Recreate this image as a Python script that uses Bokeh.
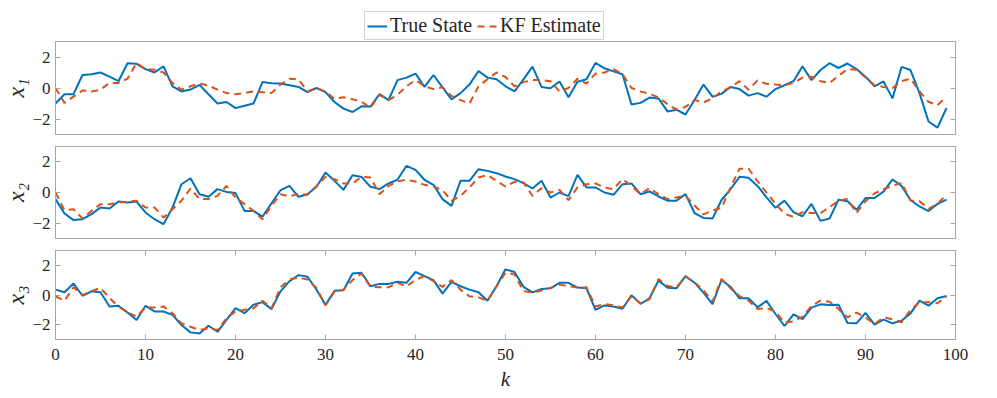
from bokeh.plotting import figure
from bokeh.layouts import column
from bokeh.models import Range1d, FixedTicker, LinearAxis, Legend, LegendItem
from bokeh.embed import file_html
from bokeh.resources import INLINE

k = list(range(100))

x1_true = [-1.0, -0.4, -0.4, 0.84, 0.89, 1.0, 0.73, 0.44, 1.6, 1.56,
           1.22, 1.0, 1.4, 0.1, -0.22, -0.1, 0.2, -0.4, -1.0, -0.9,
           -1.3, -1.15, -1.0, 0.38, 0.31, 0.29, 0.18, 0.07, -0.27, 0.0,
           -0.27, -0.9, -1.33, -1.55, -1.18, -1.2, -0.4, -0.78, 0.51, 0.67,
           0.93, 0.07, 0.84, 0.04, -0.73, -0.33, 0.22, 1.1, 0.67, 0.56,
           0.11, -0.22, 0.56, 1.38, 0.07, -0.02, 0.42, -0.6, 0.4, 0.56,
           1.62, 1.27, 1.07, 0.89, -1.07, -0.96, -0.62, -0.67, -1.51, -1.4,
           -1.71, -0.78, 0.22, -0.56, -0.38, 0.07, -0.07, -0.49, -0.33, -0.56,
           -0.07, 0.18, 0.44, 1.4, 0.51, 1.16, 1.6, 1.29, 1.58, 1.22,
           0.73, 0.11, 0.42, -0.67, 1.36, 1.16, -0.33, -2.16, -2.56, -1.29]
x1_est = [0.0, -0.96, -0.56, -0.16, -0.22, -0.11, 0.33, 0.33, 0.6, 1.62,
          1.22, 1.18, 1.0, 0.33, -0.11, 0.11, 0.29, 0.16, -0.11, -0.33,
          -0.4, -0.33, -0.22, -0.27, -0.33, 0.22, 0.6, 0.56, -0.22, 0.0,
          -0.22, -0.7, -0.6, -0.73, -0.89, -1.27, -0.44, -0.78, -0.44, 0.11,
          0.51, 0.11, -0.07, 0.04, -0.51, -0.78, -1.0, 0.11, 0.56, 1.0,
          0.71, 0.11, 0.38, 0.51, 0.51, 0.44, -0.22, 0.0, 0.6, 0.29,
          0.93, 1.0, 1.22, 0.89, 0.0, -0.22, -0.38, -0.6, -1.04, -1.4,
          -1.22, -0.78, -0.93, -0.67, -0.22, 0.04, 0.44, -0.11, 0.49, 0.27,
          0.22, 0.18, 0.33, 0.67, 0.73, 0.44, 0.33, 0.78, 1.22, 1.18,
          0.67, 0.18, 0.07, 0.0, 0.44, 0.6, -0.22, -0.89, -1.11, -0.56]

x2_true = [-0.43, -1.37, -1.8, -1.74, -1.41, -0.98, -1.04, -0.59, -0.65, -0.59,
           -1.3, -1.74, -2.07, -0.98, 0.54, 0.93, -0.11, -0.28, 0.22, 0.04,
           -0.04, -1.2, -1.2, -1.57, -0.7, 0.15, 0.43, -0.28, -0.11, 0.37,
           1.3, 0.76, 0.17, 1.13, 1.02, 0.37, 0.22, 0.59, 0.83, 1.74,
           1.48, 0.83, 0.5, -0.43, -0.87, 0.76, 0.76, 1.52, 1.41, 1.26,
           1.04, 0.87, 0.61, 0.26, 0.76, -0.33, 0.0, -0.24, 1.15, 0.33,
           0.33, 0.0, -0.15, 0.54, 0.59, -0.11, 0.07, -0.26, -0.53, -0.53,
           -0.11, -1.34, -1.66, -1.7, -0.49, 0.21, 1.02, 0.96, 0.43, -0.32,
           -1.0, -0.53, -1.28, -1.55, -0.74, -1.85, -1.7, -0.47, -0.57, -1.13,
           -0.36, -0.36, 0.06, 0.85, 0.43, -0.49, -0.91, -1.21, -0.74, -0.47]
x2_est = [0.0, -1.15, -1.09, -1.7, -1.2, -0.76, -0.76, -0.65, -0.59, -0.54,
          -0.98, -0.98, -1.63, -1.09, -0.54, 0.26, -0.43, -0.43, -0.22, 0.43,
          -0.33, -0.76, -1.2, -1.74, -0.87, -0.11, -0.26, -0.07, -0.15, 0.43,
          1.02, 0.87, 0.59, 0.59, 1.02, 0.98, -0.11, 0.43, 0.72, 0.83,
          0.72, 0.5, 0.39, 0.15, -0.54, -0.22, 0.33, 0.98, 1.13, 0.76,
          0.39, 0.7, 0.65, -0.22, 0.28, 0.0, 0.17, -0.5, 0.33, 0.54,
          0.59, 0.33, 0.22, 0.87, 0.43, -0.11, 0.28, -0.11, -0.43, -0.32,
          -0.21, -0.85, -1.43, -1.17, -1.0, 0.32, 1.55, 1.55, 0.74, 0.0,
          -0.74, -1.38, -1.6, -1.28, -1.34, -1.34, -0.96, -0.53, -0.43, -1.34,
          -0.57, -0.06, 0.21, 0.43, 0.64, -0.53, -0.57, -1.06, -0.74, -0.15]

x3_true = [0.36, 0.18, 0.77, -0.05, 0.25, 0.18, -0.77, -0.73, -1.18, -1.68,
           -0.73, -1.11, -1.11, -1.34, -2.02, -2.52, -2.59, -2.07, -2.48, -1.68,
           -0.89, -1.23, -0.66, -0.48, -0.95, 0.25, 0.93, 1.34, 1.23, 0.36,
           -0.66, 0.28, 0.32, 1.45, 1.5, 0.59, 0.75, 0.75, 0.89, 0.82,
           1.55, 1.27, 1.0, 0.09, 0.89, 0.59, 0.36, 0.18, -0.39, 0.59,
           1.73, 1.55, 0.55, 0.18, 0.41, 0.45, 0.82, 0.82, 0.5, 0.45,
           -1.0, -0.7, -0.77, -0.93, -0.02, -0.6, -0.22, 0.97, 0.49, 0.45,
           1.28, 0.83, 0.16, -0.61, 1.01, 0.56, -0.22, -0.22, -0.83, -0.4,
           -1.28, -2.09, -1.3, -1.62, -0.85, -0.63, -0.67, -0.65, -1.89, -1.91,
           -1.21, -2.0, -1.66, -1.91, -1.73, -1.24, -0.38, -0.72, -0.22, -0.07]
x3_est = [-0.09, -0.39, 0.52, 0.0, 0.25, 0.48, -0.2, -0.77, -1.16, -1.45,
          -0.84, -0.84, -0.77, -1.23, -1.91, -2.14, -2.36, -2.25, -2.36, -1.57,
          -1.11, -1.0, -0.89, -0.39, -0.89, 0.52, 1.05, 1.16, 1.05, 0.48,
          -0.7, 0.22, 0.36, 1.0, 1.45, 0.55, 0.52, 0.52, 0.84, 0.57,
          1.02, 1.27, 0.93, 0.55, 1.0, 0.36, -0.09, -0.16, -0.39, 0.57,
          1.5, 1.39, 0.25, 0.18, 0.3, 0.48, 0.7, 0.59, 0.5, 0.52,
          -0.77, -0.61, -0.7, -0.84, -0.09, -0.55, -0.29, 1.08, 0.61, 0.52,
          1.24, 0.85, 0.34, -0.45, 1.08, 0.45, -0.07, -0.38, -0.94, -0.88,
          -1.12, -1.87, -1.78, -1.46, -0.74, -0.38, -0.45, -0.94, -1.51, -1.19,
          -1.51, -1.96, -1.51, -1.64, -1.84, -1.01, -0.49, -0.49, -0.56, -0.11]

y_labels = ["x₁", "x₂", "x₃"]
x_ticks = [0, 10, 20, 30, 40, 50, 60, 70, 80, 90, 100]
y_ticks = [-2, 0, 2]
legend_labels = ["True State", "KF Estimate"]

BLUE = "#0072BD"
ORANGE = "#D95319"
FRAME = "#a6a6a6"
TXT = "#262626"
FONT = "Liberation Serif"
DASH = "7 5"

x_range = Range1d(0, 100)


def blank_axis(ticks):
    return LinearAxis(ticker=FixedTicker(ticks=ticks), major_tick_in=5, major_tick_out=0,
                      minor_tick_line_color=None, axis_line_color=FRAME,
                      major_tick_line_color=FRAME, major_label_text_color=None,
                      major_label_text_font_size="1px", major_label_standoff=0)


def make_fig(height, top, bottom, ylabel, show_x):
    p = figure(width=978, height=height, x_range=x_range, y_range=Range1d(-3, 3),
               output_backend="svg", toolbar_location=None,
               min_border_left=40, min_border_right=23,
               min_border_top=top, min_border_bottom=bottom)
    p.grid.visible = False
    p.outline_line_color = FRAME
    p.outline_line_width = 1
    ya = p.yaxis[0]
    ya.ticker = FixedTicker(ticks=y_ticks)
    ya.major_tick_in = 5
    ya.major_tick_out = 0
    ya.minor_tick_line_color = None
    ya.axis_line_color = FRAME
    ya.major_tick_line_color = FRAME
    ya.major_label_text_font = FONT
    ya.major_label_text_font_size = "17px"
    ya.major_label_text_color = TXT
    ya.major_label_standoff = 5
    ya.axis_label = ylabel
    ya.axis_label_text_font = FONT
    ya.axis_label_text_font_style = "italic"
    ya.axis_label_text_font_size = "24px"
    ya.axis_label_text_line_height = 0.9
    ya.axis_label_text_color = TXT
    ya.axis_label_standoff = 0
    p.add_layout(blank_axis(y_ticks), "right")
    xa = p.xaxis[0]
    if show_x:
        xa.ticker = FixedTicker(ticks=x_ticks)
        xa.major_tick_in = 5
        xa.major_tick_out = 0
        xa.minor_tick_line_color = None
        xa.axis_line_color = FRAME
        xa.major_tick_line_color = FRAME
        xa.major_label_text_font = FONT
        xa.major_label_text_font_size = "17px"
        xa.major_label_text_color = TXT
        xa.major_label_standoff = 9
        xa.axis_label = "k"
        xa.axis_label_text_font = FONT
        xa.axis_label_text_font_style = "italic"
        xa.axis_label_text_font_size = "21px"
        xa.axis_label_text_line_height = 1.0
        xa.axis_label_text_color = TXT
        xa.axis_label_standoff = 4
        p.add_layout(blank_axis(x_ticks), "above")
    else:
        xa.visible = False
    return p


def add_lines(p, true_vals, est_vals):
    r1 = p.line(k, true_vals, line_color=BLUE, line_width=2)
    r2 = p.line(k, est_vals, line_color=ORANGE, line_width=2, line_dash=DASH)
    return r1, r2


# legend strip: series drawn outside the visible range so only the legend shows
p0 = figure(width=978, height=40, x_range=Range1d(0, 100), y_range=Range1d(100, 101),
            output_backend="svg", toolbar_location=None,
            x_axis_type=None, y_axis_type=None, min_border=0)
p0.grid.visible = False
p0.outline_line_color = None
lr1, lr2 = add_lines(p0, x1_true, x1_est)
legend = Legend(items=[LegendItem(label=legend_labels[0], renderers=[lr1]),
                       LegendItem(label=legend_labels[1], renderers=[lr2])],
                orientation="horizontal", location=(309, 0),
                border_line_color=FRAME, border_line_width=1,
                background_fill_color="white", background_fill_alpha=1,
                label_text_font=FONT, label_text_font_size="20px",
                label_text_color=TXT, glyph_width=20, glyph_height=16,
                label_height=16, label_standoff=3, spacing=5, padding=2, margin=0)
p0.add_layout(legend, "center")

p1 = make_fig(100, 1, 6, y_labels[0], False)
add_lines(p1, x1_true, x1_est)
p2 = make_fig(104, 6, 6, y_labels[1], False)
add_lines(p2, x2_true, x2_est)
p3 = make_fig(153, 6, 58, y_labels[2], True)
add_lines(p3, x3_true, x3_est)

layout = column(p0, p1, p2, p3, spacing=0)

open("out.html", "w").write(file_html(layout, INLINE))
